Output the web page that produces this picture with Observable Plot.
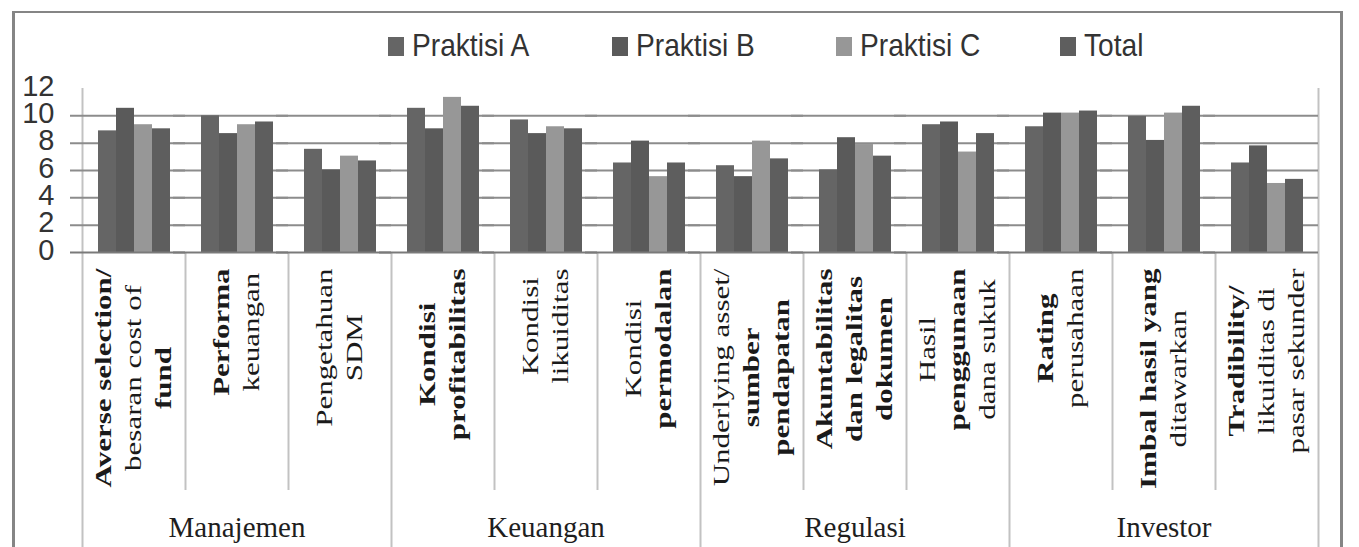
<!DOCTYPE html>
<html><head><meta charset="utf-8">
<script src="https://cdn.jsdelivr.net/npm/d3@7"></script>
<script src="https://cdn.jsdelivr.net/npm/@observablehq/plot@0.6"></script>
<style>
html,body{margin:0;padding:0;background:#fff;}
#wrap{position:relative;width:1359px;height:547px;overflow:hidden;}
#frame{position:absolute;left:12px;top:11px;width:1331px;height:600px;box-sizing:border-box;border:3px solid #858585;border-bottom:none;border-top-width:2px;}
#legend{position:absolute;left:0;top:0;}
#plots{position:absolute;left:0;top:70px;width:1359px;height:477px;}
#plots svg{position:absolute;left:0;top:0;}
</style></head><body>
<div id="wrap"><div id="frame"></div><div id="legend"></div><div id="plots"></div></div>
<script>
// ---- data ----
const categories = [
  "Averse selection/ besaran cost of fund", "Performa keuangan", "Pengetahuan SDM",
  "Kondisi profitabilitas", "Kondisi likuiditas", "Kondisi permodalan",
  "Underlying asset/ sumber pendapatan", "Akuntabilitas dan legalitas dokumen", "Hasil penggunaan dana sukuk",
  "Rating perusahaan", "Imbal hasil yang ditawarkan", "Tradibility/ likuiditas di pasar sekunder"
];
const labelLines = [
  ["Averse selection/", "besaran cost of", "fund"], ["Performa", "keuangan"], ["Pengetahuan", "SDM"],
  ["Kondisi", "profitabilitas"], ["Kondisi", "likuiditas"], ["Kondisi", "permodalan"],
  ["Underlying asset/", "sumber", "pendapatan"], ["Akuntabilitas", "dan legalitas", "dokumen"], ["Hasil", "penggunaan", "dana sukuk"],
  ["Rating", "perusahaan"], ["Imbal hasil yang", "ditawarkan"], ["Tradibility/", "likuiditas di", "pasar sekunder"]
];
const labelBold = [
  [1,0,1], [1,0], [0,0],
  [1,1], [0,0], [0,1],
  [0,1,1], [1,1,1], [0,1,0],
  [1,0], [1,0], [1,0,0]
];
const groups = ["Manajemen", "Keuangan", "Regulasi", "Investor"];
const categoryGroup = [0,0,0, 1,1,1, 2,2,2, 3,3,3];
const series = ["Praktisi A", "Praktisi B", "Praktisi C", "Total"];
const praktisiA = [8.9, 10.0, 7.55, 10.55, 9.7, 6.55, 6.35, 6.05, 9.35, 9.2, 9.95, 6.55];
const praktisiB = [10.55, 8.7, 6.05, 9.05, 8.7, 8.15, 5.55, 8.4, 9.55, 10.2, 8.2, 7.8];
const praktisiC = [9.35, 9.35, 7.05, 11.35, 9.2, 5.55, 8.15, 7.9, 7.35, 10.2, 10.2, 5.05];
const total     = [9.05, 9.55, 6.7, 10.7, 9.05, 6.55, 6.85, 7.05, 8.7, 10.35, 10.7, 5.35];
const seriesColors = ["#656565", "#5a5a5a", "#979797", "#5e5e5e"];
const yTicks = [0, 2, 4, 6, 8, 10, 12];
const gridValues = [2, 4, 6, 8, 10];

// ---- build ----
const values = [praktisiA, praktisiB, praktisiC, total];
const rows = categories.flatMap((c, i) => series.map((s, j) => ({cat: c, series: s, value: values[j][i]})));

const W = 1359, H = 477, ML = 82, MR = 41, MT = 18, MB = 295;
const serif = "'Liberation Serif', 'Times New Roman', serif";

// Legend (above the chart)
const leg = d3.select("#legend").append("svg").attr("width", W).attr("height", 70);
series.forEach((s, i) => {
  const x0 = 388 + i * 224;
  leg.append("rect").attr("x", x0).attr("y", 37).attr("width", 16).attr("height", 19).attr("fill", seriesColors[i]);
  leg.append("text").attr("transform", `translate(${x0 + 24},56) scale(0.88,1)`).text(s)
    .attr("font-family", "'Liberation Sans', Arial, sans-serif")
    .attr("font-size", 32).attr("fill", "#333");
});

// Plot B: category structure (separators and labels)
const ctx = document.createElement("canvas").getContext("2d");
const labelSize = 31;
function tw(s, bold) { ctx.font = `${bold ? "bold " : ""}${labelSize}px "Liberation Serif"`; return ctx.measureText(s).width; }

const n = categories.length;
const innerSeps = d3.range(1, n).filter(i => categoryGroup[i] === categoryGroup[i - 1]);
const groupSeps = d3.range(0, n + 1).filter(i => i === 0 || i === n || categoryGroup[i] !== categoryGroup[i - 1]);
const groupCenters = groups.map((g, gi) => d3.mean(d3.range(n).filter(i => categoryGroup[i] === gi), i => i + 0.5));

const marksB = [
  Plot.ruleX([0, n], {stroke: "#c2c2c2", strokeWidth: 2}),
  Plot.ruleX(innerSeps, {x: d => d, y1: () => 0, y2: () => 0, insetBottom: -238, stroke: "#c2c2c2", strokeWidth: 2}),
  Plot.ruleX(groupSeps, {x: d => d, y1: () => 0, y2: () => 0, insetBottom: -300, stroke: "#c2c2c2", strokeWidth: 2})
];
labelLines.forEach((lines, i) => {
  const maxLen = d3.max(lines, (s, j) => tw(s, labelBold[i][j]));
  lines.forEach((s, j) => {
    marksB.push(Plot.text([s], {
      x: () => i + 0.5, y: () => 0, text: d => d, rotate: -90,
      textAnchor: "middle", lineAnchor: "middle",
      dx: (j - (lines.length - 1) / 2) * 30, dy: 16 + maxLen / 2,
      fontSize: labelSize, fontFamily: serif, fontWeight: labelBold[i][j] ? "bold" : "normal", fill: "#1a1a1a"
    }));
  });
});
marksB.push(Plot.text(groups, {
  x: (d, i) => groupCenters[i], y: () => 0, text: d => d, textAnchor: "middle", lineAnchor: "middle",
  dy: 275, fontSize: 29, fontFamily: serif, fill: "#1e1e1e"
}));

const plotB = Plot.plot({
  width: W, height: H, marginLeft: ML, marginRight: MR, marginTop: MT, marginBottom: MB,
  style: {background: "none", overflow: "visible"},
  x: {domain: [0, n], axis: null},
  y: {domain: [0, 12], axis: null},
  marks: marksB
});
plotB.querySelectorAll("text").forEach(t => {
  const tr = t.getAttribute("transform");
  if (tr && tr.includes("rotate")) t.setAttribute("transform", tr + " scale(1,0.75)");
});

// Plot A: bars
const plotA = Plot.plot({
  width: W, height: H, marginLeft: ML, marginRight: MR, marginTop: MT, marginBottom: MB,
  style: {background: "none", overflow: "visible"},
  fx: {domain: categories, padding: 0, axis: null, label: null},
  x: {domain: series, paddingInner: 0, paddingOuter: 0.75, axis: null},
  y: {domain: [0, 12], axis: null},
  color: {domain: series, range: seriesColors},
  marks: [
    Plot.ruleY(gridValues, {stroke: "#8c8c8c", strokeWidth: 2, insetLeft: -12}),
    Plot.barY(rows, {fx: "cat", x: "series", y: "value", fill: "series"}),
    Plot.ruleY([0], {stroke: "#7a7a7a", strokeWidth: 2, insetLeft: -12}),
    Plot.axisY({ticks: yTicks, tickSize: 0, tickPadding: 28, fontSize: 29,
      fontFamily: "'Liberation Sans', Arial, sans-serif", fill: "#333", label: null, dy: -2})
  ]
});

const holder = document.getElementById("plots");
holder.appendChild(plotB);
holder.appendChild(plotA);
</script>
</body></html>
